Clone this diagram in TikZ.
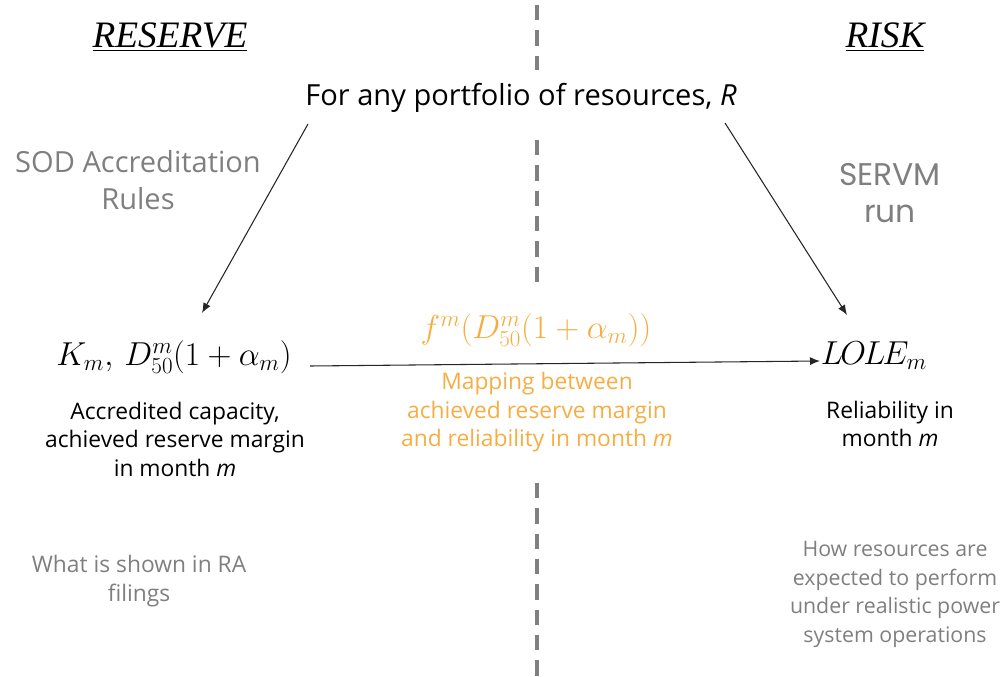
\documentclass[tikz,border=0pt]{standalone}
\usepackage{fontspec}
\setmainfont{Open Sans}
\newfontfamily\headfont{Liberation Serif}
\newfontfamily\servmfont{Poppins}
\usetikzlibrary{arrows.meta}
\definecolor{txtgray}{RGB}{127,127,127}
\definecolor{dashgray}{RGB}{128,128,128}
\definecolor{orng}{RGB}{246,174,68}
\begin{document}
\begin{tikzpicture}[x=0.75pt,y=-0.75pt,
  every node/.style={inner sep=0pt, outer sep=0pt, align=center},
  head/.style={font=\headfont\itshape\fontsize{28}{30}\selectfont},
  big/.style={font=\fontsize{21.8}{27.75}\selectfont},
  body/.style={font=\fontsize{17.1}{21.4}\selectfont},
  mathtxt/.style={font=\fontsize{24.3}{28}\selectfont},
  divider/.style={draw=dashgray, line width=3pt, dash pattern=on 11.6pt off 7.4pt},
  arr/.style={draw=black!85, line width=0.8pt, -{Latex[length=7.5pt,width=6pt]}}]
\useasboundingbox (0,0) rectangle (1005,677);

% divider
\coordinate (d1a) at (537,5);   \coordinate (d1b) at (537,70);
\coordinate (d2a) at (537,140); \coordinate (d2b) at (537,283);
\coordinate (d3a) at (537,483); \coordinate (d3b) at (537,677);
\draw[divider] (d1a) -- (d1b);
\draw[divider] (d2a) -- (d2b);
\draw[divider] (d3a) -- (d3b);

% headings
\node[head] (reserve) at (170,37) {\underline{RESERVE}};
\node[head] (risk) at (885,37) {\underline{RISK}};

% top
\node[big] (port) at (521,98) {For any portfolio of resources, \textit{R}};

% side labels
\node[big, text=txtgray] (sod) at (138,180.5) {SOD Accreditation\\Rules};
\node[font=\servmfont\fontsize{23.5}{27.75}\selectfont, text=txtgray] (servm) at (890,193.5) {SERVM\\run};

% math nodes
\node[mathtxt] (km) at (174,357) {$K_m,\, D^{m}_{50}(1+\alpha_m)$};
\node[mathtxt] (lole) at (874,356) {$L\mkern-1.5mu O\mkern-1.5mu L\mkern-1.5mu E_m$};
\node[mathtxt, text=orng] (fm) at (536,330) {$f^{m}(D^{m}_{50}(1+\alpha_m))$};

% descriptions
\node[body] (acc) at (175,439) {Accredited capacity,\\achieved reserve margin\\in month \textit{m}};
\node[body, text=orng] (map) at (537,412.5) {Mapping between\\achieved reserve margin\\and reliability in month \textit{m}};
\node[body] (rel) at (890,424) {Reliability in\\month \textit{m}};

% bottom notes
\node[body, text=txtgray] (ra) at (139,581) {What is shown in RA\\filings};
\node[font=\fontsize{16}{21.4}\selectfont, text=txtgray] (how) at (895,594.5) {How resources are\\expected to perform\\under realistic power\\system operations};

% arrows
\coordinate (a1s) at (308,124);
\coordinate (a1e) at (202,313);
\coordinate (a2s) at (725,123);
\coordinate (a2e) at (847,315);
\coordinate (a3s) at (310,366);
\coordinate (a3e) at (820,361);
\draw[arr] (a1s) -- (a1e);
\draw[arr] (a2s) -- (a2e);
\draw[arr] (a3s) -- (a3e);
\end{tikzpicture}
\end{document}
